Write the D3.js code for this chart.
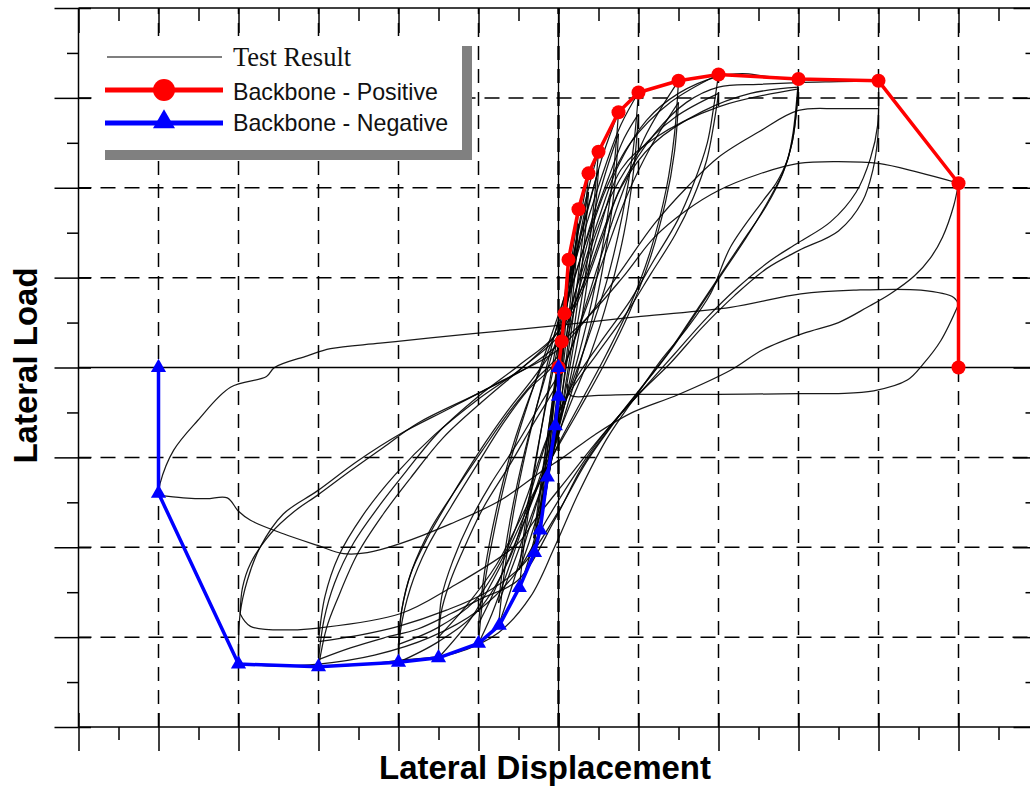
<!DOCTYPE html>
<html><head><meta charset="utf-8">
<script src="https://cdn.jsdelivr.net/npm/d3@7/dist/d3.min.js"></script>
<style>html,body{margin:0;padding:0;background:#fff;overflow:hidden}</style>
</head><body>
<svg id="chart" width="1030" height="786"></svg>
<script>
// ---------- data ----------
const xTicksMajor = [-6,-5,-4,-3,-2,-1,0,1,2,3,4,5,6];
const xTicksMinor = [-5.5,-4.5,-3.5,-2.5,-1.5,-0.5,0.5,1.5,2.5,3.5,4.5,5.5];
const yTicksMajor = [-4,-3,-2,-1,0,1,2,3,4];
const yTicksMinor = [-3.5,-2.5,-1.5,-0.5,0.5,1.5,2.5,3.5];

const backbonePosX = [0,0.04,0.075,0.125,0.25,0.375,0.5,0.75,1,1.5,2,3,4,5,5];
const backbonePosY = [0,0.29,0.60,1.20,1.76,2.16,2.40,2.84,3.06,3.19,3.26,3.21,3.19,2.05,0];
const backboneNegX = [0,0,-0.04,-0.14,-0.23,-0.30,-0.49,-0.74,-1,-1.5,-2,-3,-4,-5,-5];
const backboneNegY = [0,-0.32,-0.65,-1.22,-1.81,-2.06,-2.45,-2.87,-3.07,-3.23,-3.28,-3.33,-3.30,-1.40,0];

const legendLabels = ["Test Result","Backbone - Positive","Backbone - Negative"];
const xTitle = "Lateral Displacement";
const yTitle = "Lateral Load";

// test result, one branch per half cycle [displacement, load]
const testResult = [
 [[0,-0.30],[0.02,0.00],[0.04,0.29]],
 [[0.04,0.29],[0.02,0.00],[0.00,-0.30]],
 [[-0.03,-0.64],[0.00,-0.20],[0.04,0.20],[0.075,0.60]],
 [[0.075,0.60],[0.05,0.15],[0.01,-0.25],[-0.03,-0.64]],
 [[-0.14,-1.23],[-0.09,-0.70],[-0.03,-0.15],[0.03,0.35],[0.08,0.80],[0.125,1.20]],
 [[0.125,1.20],[0.09,0.70],[0.03,0.10],[-0.03,-0.40],[-0.09,-0.85],[-0.14,-1.23]],
 [[-0.14,-1.15],[-0.08,-0.60],[-0.01,-0.05],[0.05,0.45],[0.10,0.85],[0.125,1.10]],
 [[0.125,1.10],[0.10,0.65],[0.05,0.05],[-0.02,-0.45],[-0.08,-0.85],[-0.14,-1.15]],
 [[-0.24,-1.82],[-0.17,-1.20],[-0.08,-0.50],[0.02,0.20],[0.10,0.80],[0.18,1.30],[0.25,1.76]],
 [[0.25,1.76],[0.20,1.20],[0.12,0.50],[0.03,-0.20],[-0.06,-0.80],[-0.15,-1.35],[-0.24,-1.82]],
 [[-0.24,-1.65],[-0.16,-1.05],[-0.06,-0.35],[0.04,0.30],[0.13,0.85],[0.20,1.25],[0.25,1.60]],
 [[0.25,1.60],[0.21,1.10],[0.14,0.45],[0.05,-0.25],[-0.05,-0.80],[-0.15,-1.25],[-0.24,-1.65]],
 [[-0.31,-2.06],[-0.24,-1.50],[-0.14,-0.80],[-0.03,-0.05],[0.08,0.65],[0.20,1.30],[0.30,1.80],[0.375,2.16]],
 [[0.375,2.16],[0.32,1.60],[0.23,0.90],[0.12,0.15],[0.00,-0.55],[-0.10,-1.10],[-0.20,-1.60],[-0.31,-2.06]],
 [[-0.31,-1.90],[-0.23,-1.35],[-0.12,-0.65],[0.00,0.05],[0.11,0.70],[0.23,1.30],[0.32,1.70],[0.375,1.95]],
 [[0.375,1.95],[0.33,1.45],[0.25,0.80],[0.14,0.10],[0.02,-0.55],[-0.09,-1.05],[-0.20,-1.50],[-0.31,-1.90]],
 [[-0.49,-2.46],[-0.42,-1.90],[-0.30,-1.15],[-0.16,-0.40],[-0.02,0.30],[0.12,0.95],[0.27,1.60],[0.40,2.08],[0.50,2.40]],
 [[0.50,2.40],[0.44,1.80],[0.34,1.05],[0.20,0.30],[0.06,-0.40],[-0.08,-1.00],[-0.22,-1.60],[-0.36,-2.10],[-0.49,-2.46]],
 [[-0.49,-2.25],[-0.41,-1.70],[-0.28,-1.00],[-0.13,-0.30],[0.02,0.35],[0.16,0.95],[0.30,1.55],[0.42,1.95],[0.50,2.20]],
 [[0.50,2.20],[0.45,1.65],[0.36,0.95],[0.23,0.25],[0.08,-0.40],[-0.07,-0.95],[-0.22,-1.50],[-0.37,-1.95],[-0.49,-2.25]],
 [[-0.75,-2.87],[-0.68,-2.30],[-0.56,-1.60],[-0.40,-0.90],[-0.22,-0.25],[-0.04,0.40],[0.15,1.05],[0.35,1.70],[0.55,2.35],[0.75,2.84]],
 [[0.75,2.84],[0.69,2.20],[0.58,1.50],[0.42,0.75],[0.24,0.10],[0.05,-0.50],[-0.15,-1.15],[-0.37,-1.80],[-0.57,-2.40],[-0.75,-2.87]],
 [[-0.75,-2.62],[-0.67,-2.05],[-0.54,-1.40],[-0.37,-0.75],[-0.18,-0.15],[0.02,0.45],[0.22,1.05],[0.42,1.65],[0.60,2.20],[0.75,2.60]],
 [[0.75,2.60],[0.70,2.00],[0.60,1.35],[0.45,0.65],[0.27,0.05],[0.07,-0.55],[-0.14,-1.15],[-0.36,-1.70],[-0.57,-2.20],[-0.75,-2.62]],
 [[-1,-3.07],[-0.93,-2.45],[-0.80,-1.80],[-0.62,-1.10],[-0.40,-0.45],[-0.17,0.15],[0.06,0.75],[0.30,1.45],[0.55,2.15],[0.78,2.70],[1,3.06]],
 [[1,3.06],[0.93,2.40],[0.80,1.70],[0.60,0.95],[0.36,0.30],[0.12,-0.30],[-0.13,-0.95],[-0.40,-1.65],[-0.65,-2.30],[-0.85,-2.78],[-1,-3.07]],
 [[-1,-2.85],[-0.92,-2.25],[-0.78,-1.60],[-0.58,-0.90],[-0.35,-0.30],[-0.10,0.25],[0.14,0.85],[0.38,1.50],[0.62,2.10],[0.82,2.55],[1,2.82]],
 [[1,2.82],[0.94,2.20],[0.82,1.50],[0.63,0.80],[0.40,0.15],[0.15,-0.40],[-0.12,-1.00],[-0.40,-1.65],[-0.66,-2.20],[-0.86,-2.60],[-1,-2.85]],
 [[-1.5,-3.23],[-1.47,-2.74],[-1.35,-2.37],[-1.14,-1.93],[-0.94,-1.56],[-0.60,-1.07],[-0.31,-0.62],[0,-0.15],[0.25,0.45],[0.50,1.15],[0.78,1.90],[1.10,2.60],[1.5,3.19]],
 [[1.5,3.19],[1.45,2.60],[1.35,2.00],[1.15,1.30],[0.90,0.70],[0.60,0.15],[0.30,-0.35],[0,-0.85],[-0.35,-1.50],[-0.72,-2.20],[-1.10,-2.80],[-1.5,-3.23]],
 [[-1.5,-3.00],[-1.46,-2.55],[-1.32,-2.15],[-1.10,-1.70],[-0.85,-1.30],[-0.52,-0.85],[-0.22,-0.40],[0.08,0.05],[0.32,0.60],[0.58,1.25],[0.85,1.90],[1.15,2.45],[1.5,2.95]],
 [[1.5,2.95],[1.45,2.40],[1.34,1.85],[1.14,1.20],[0.88,0.60],[0.58,0.05],[0.27,-0.45],[-0.05,-0.95],[-0.40,-1.55],[-0.78,-2.20],[-1.15,-2.65],[-1.5,-3.00]],
 [[-2,-3.28],[-1.975,-2.93],[-1.85,-2.45],[-1.64,-2.00],[-1.35,-1.56],[-1.01,-1.07],[-0.69,-0.62],[-0.39,-0.26],[0,0.10],[0.20,0.80],[0.40,1.50],[0.60,2.00],[0.90,2.50],[1.40,2.95],[2,3.26]],
 [[2,3.26],[1.94,2.90],[1.86,2.50],[1.69,2.05],[1.49,1.64],[1.19,1.19],[0.90,0.75],[0.50,0.25],[0.20,-0.15],[-0.10,-0.70],[-0.35,-1.40],[-0.60,-2.10],[-1.00,-2.70],[-1.50,-3.05],[-2,-3.28]],
 [[-2,-3.08],[-1.96,-2.70],[-1.83,-2.25],[-1.60,-1.80],[-1.30,-1.38],[-0.95,-0.92],[-0.62,-0.50],[-0.30,-0.15],[0.05,0.20],[0.25,0.85],[0.45,1.45],[0.68,1.95],[1.00,2.40],[1.45,2.78],[2,3.05]],
 [[2,3.05],[1.94,2.70],[1.85,2.30],[1.68,1.88],[1.46,1.48],[1.16,1.05],[0.86,0.62],[0.48,0.15],[0.16,-0.25],[-0.14,-0.78],[-0.40,-1.45],[-0.66,-2.05],[-1.05,-2.60],[-1.52,-2.90],[-2,-3.08]],
 [[-2,-3.08],[-1.96,-2.70],[-1.85,-2.30],[-1.64,-1.90],[-1.35,-1.45],[-1.00,-0.95],[-0.65,-0.50],[-0.30,-0.10],[0,0.30],[0.25,0.95],[0.50,1.65],[0.75,2.25],[1.10,2.75],[1.50,3.05],[2,3.24],[2.3,3.27],[2.6,3.24],[3,3.21]],
 [[3,3.21],[2.93,2.60],[2.86,2.31],[2.72,2.05],[2.56,1.86],[2.15,1.34],[1.90,0.82],[1.61,0.44],[1.28,0.08],[0.99,-0.29],[0.60,-0.80],[0.25,-1.40],[-0.05,-2.00],[-0.35,-2.55],[-0.75,-2.95],[-1.30,-3.18],[-2,-3.26],[-2.5,-3.31],[-3,-3.33]],
 [[-3,-3.33],[-2.90,-2.90],[-2.76,-2.57],[-2.51,-2.07],[-2.19,-1.63],[-1.85,-1.23],[-1.44,-0.78],[-0.94,-0.37],[-0.45,0.00],[0,0.35],[0.30,0.85],[0.55,1.45],[0.78,2.00],[1.20,2.50],[1.80,2.85],[2.40,3.05],[3,3.12]],
 [[3,3.12],[2.92,2.50],[2.80,2.15],[2.60,1.80],[2.30,1.40],[2.00,1.00],[1.70,0.60],[1.40,0.20],[1.10,-0.15],[0.70,-0.60],[0.30,-1.10],[-0.05,-1.70],[-0.51,-2.37],[-0.94,-2.56],[-1.35,-2.74],[-1.76,-2.91],[-2.19,-3.01],[-2.60,-3.12],[-3,-3.25]],
 [[-3,-3.25],[-2.93,-2.80],[-2.80,-2.40],[-2.56,-1.95],[-2.25,-1.55],[-1.90,-1.15],[-1.50,-0.72],[-1.00,-0.32],[-0.50,0.02],[-0.05,0.35],[0.25,0.80],[0.50,1.50],[0.78,2.20],[1.20,2.55],[2.00,2.90],[3,3.10]],
 [[3,3.10],[2.93,2.55],[2.82,2.20],[2.62,1.85],[2.35,1.45],[2.05,1.05],[1.75,0.65],[1.45,0.25],[1.15,-0.10],[0.75,-0.55],[0.35,-1.05],[0,-1.60],[-0.45,-2.20],[-0.90,-2.50],[-1.40,-2.70],[-2.00,-2.88],[-2.50,-2.98],[-3,-3.05]],
 [[-3,-3.05],[-2.92,-2.55],[-2.75,-2.10],[-2.45,-1.65],[-2.05,-1.20],[-1.55,-0.75],[-1.00,-0.35],[-0.45,0.00],[0,0.40],[0.30,0.90],[0.55,1.50],[0.80,2.05],[1.20,2.60],[1.60,2.95],[2.0,3.12],[2.5,3.15],[3.0,3.17],[3.5,3.18],[4,3.19]],
 [[4,3.19],[3.99,2.70],[3.90,2.33],[3.72,1.95],[3.40,1.62],[3.00,1.39],[2.65,1.19],[2.24,0.89],[1.85,0.55],[1.45,0.15],[1.05,-0.25],[0.60,-0.70],[0.20,-1.20],[-0.15,-1.70],[-0.50,-2.25],[-1.00,-2.70],[-1.60,-3.00],[-2.30,-3.20],[-3,-3.30],[-3.5,-3.32],[-4,-3.30]],
 [[-4,-3.30],[-3.98,-2.74],[-3.89,-2.37],[-3.73,-2.00],[-3.44,-1.63],[-3.01,-1.37],[-2.51,-1.04],[-1.98,-0.74],[-1.35,-0.45],[-0.69,-0.14],[0,0.20],[0.40,0.60],[0.80,1.10],[1.20,1.60],[1.60,2.00],[2.00,2.34],[2.50,2.62],[3.00,2.86],[3.50,2.88],[4,2.88]],
 [[4,2.88],[3.99,2.55],[3.93,2.20],[3.80,1.85],[3.50,1.52],[3.00,1.30],[2.60,1.10],[2.20,0.80],[1.80,0.45],[1.40,0.05],[1.00,-0.30],[0.55,-0.75],[0.10,-1.25],[-0.30,-1.70],[-0.51,-1.96],[-1.35,-2.45],[-1.98,-2.74],[-3.01,-2.90],[-3.35,-2.92],[-3.85,-2.88],[-3.98,-2.74]],
 [[-3.98,-2.74],[-3.95,-2.45],[-3.85,-2.18],[-3.60,-1.85],[-3.30,-1.60],[-3.01,-1.42],[-2.60,-1.15],[-2.19,-0.89],[-1.76,-0.62],[-0.94,-0.26],[-0.30,0.05],[0.30,0.50],[0.80,1.00],[1.20,1.45],[1.60,1.75],[2.00,1.97],[2.50,2.15],[3.00,2.27],[3.50,2.29],[4.00,2.27],[4.50,2.17],[5,2.05]],
 [[5,2.05],[4.94,1.80],[4.80,1.45],[4.65,1.22],[4.45,1.02],[4.15,0.82],[3.86,0.67],[3.50,0.50],[3.06,0.38],[2.56,0.20],[2.15,-0.03],[1.50,-0.30],[0.90,-0.51],[0.45,-0.75],[0.06,-1.00],[-0.20,-1.15],[-0.73,-1.48],[-1.35,-1.74],[-1.98,-1.96],[-2.39,-2.06],[-2.69,-2.07],[-3.01,-1.98],[-3.44,-1.85],[-3.85,-1.70],[-4.00,-1.60],[-4.14,-1.45],[-4.40,-1.46],[-4.69,-1.45],[-5,-1.42]],
 [[-5,-1.42],[-4.98,-1.29],[-4.81,-0.92],[-4.51,-0.59],[-4.10,-0.22],[-3.65,-0.10],[-3.55,0.00],[-3.14,0.13],[-2.85,0.21],[-2.23,0.27],[-1.60,0.33],[-0.80,0.40],[0,0.47],[1.03,0.57],[2.15,0.67],[3.03,0.82],[3.69,0.86],[4.53,0.86],[4.94,0.78],[5,0.70]],
 [[5,0.70],[4.78,0.30],[4.56,0.04],[4.36,-0.14],[3.94,-0.26],[3.50,-0.29],[3.00,-0.29],[2.00,-0.30],[1.00,-0.30],[0.50,-0.31],[0.15,-0.31],[0.11,-0.18]]
];

// ---------- layout ----------
const svg = d3.select("#chart");
const x = d3.scaleLinear().domain([-6,6]).range([78.5,1038.5]);
const y = d3.scaleLinear().domain([-4,4]).range([727,8]);
const X0 = x(-6), X1 = x(6), Y0 = y(-4), Y1 = y(4);

svg.append("defs").append("clipPath").attr("id","plot")
  .append("rect").attr("x",X0).attr("y",Y1).attr("width",X1-X0).attr("height",Y0-Y1);

// grid
const grid = svg.append("g").attr("stroke","#000").attr("fill","none");
grid.selectAll(".gx").data(xTicksMajor.filter(d=>d>-6&&d<6&&d!==0)).join("line")
  .attr("x1",d=>x(d)).attr("x2",d=>x(d)).attr("y1",Y1).attr("y2",Y0)
  .attr("stroke-width",1.5).attr("stroke-dasharray","14,9").attr("stroke-dashoffset",8);
grid.selectAll(".gy").data(yTicksMajor.filter(d=>d>-4&&d<4&&d!==0)).join("line")
  .attr("y1",d=>y(d)).attr("y2",d=>y(d)).attr("x1",X0).attr("x2",X1)
  .attr("stroke-width",1.5).attr("stroke-dasharray","15,9").attr("stroke-dashoffset",2);
grid.append("line").attr("x1",X0).attr("x2",X1).attr("y1",y(0)).attr("y2",y(0)).attr("stroke-width",1.3);
grid.append("line").attr("x1",x(0)).attr("x2",x(0)).attr("y1",Y1).attr("y2",Y0).attr("stroke-width",1.3);
grid.append("line").attr("x1",x(0)).attr("x2",x(0)).attr("y1",Y1).attr("y2",Y0)
  .attr("stroke-width",2.4).attr("stroke-dasharray","14,9").attr("stroke-dashoffset",8);

// test result curves
const curve = d3.line().x(d=>x(d[0])).y(d=>y(d[1])).curve(d3.curveCatmullRom.alpha(0.5));
svg.append("g").attr("clip-path","url(#plot)")
  .selectAll("path").data(testResult).join("path")
  .attr("d",curve).attr("fill","none").attr("stroke","#000")
  .attr("stroke-width",1.25).attr("stroke-opacity",0.9).attr("stroke-linejoin","round");

// backbones
const pos = backbonePosX.map((v,i)=>[v,backbonePosY[i]]);
const neg = backboneNegX.map((v,i)=>[v,backboneNegY[i]]);
const lin = d3.line().x(d=>x(d[0])).y(d=>y(d[1]));
svg.append("path").attr("d",lin(pos)).attr("fill","none").attr("stroke","#ff0000").attr("stroke-width",3.5).attr("stroke-linejoin","round");
svg.append("g").selectAll("circle").data(pos).join("circle")
  .attr("cx",d=>x(d[0])).attr("cy",d=>y(d[1])).attr("r",7).attr("fill","#ff0000");
svg.append("path").attr("d",lin(neg)).attr("fill","none").attr("stroke","#0000ff").attr("stroke-width",3.5).attr("stroke-linejoin","round");
const tri = d3.symbol().type(d3.symbolTriangle).size(100);
svg.append("g").selectAll("path").data(neg).join("path")
  .attr("transform",d=>`translate(${x(d[0])},${y(d[1])})`).attr("d",tri).attr("fill","#0000ff");

// axes
function ax(gen, tr, vals, size){
  svg.append("g").attr("transform",tr)
    .call(gen.tickValues(vals).tickSizeInner(size).tickSizeOuter(0).tickFormat(""))
    .call(g=>{g.select(".domain").remove(); g.selectAll("line").attr("stroke","#000").attr("stroke-width",1.5);});
}
ax(d3.axisBottom(x), `translate(0,${Y0})`, xTicksMajor, 24);
ax(d3.axisTop(x),    `translate(0,${Y0})`, xTicksMajor, 14);
ax(d3.axisBottom(x), `translate(0,${Y0})`, xTicksMinor, 13);
ax(d3.axisBottom(x), `translate(0,${Y1})`, xTicksMajor, 25);
ax(d3.axisBottom(x), `translate(0,${Y1})`, xTicksMinor, 13);
ax(d3.axisLeft(y),   `translate(${X0},0)`, yTicksMajor, 24);
ax(d3.axisRight(y),  `translate(${X0},0)`, yTicksMajor, 12.5);
ax(d3.axisLeft(y),   `translate(${X0},0)`, yTicksMinor, 11.5);
ax(d3.axisLeft(y),   `translate(${X1},0)`, yTicksMajor, 25);
ax(d3.axisLeft(y),   `translate(${X1},0)`, yTicksMinor, 13);
const frame = svg.append("g").attr("stroke","#000").attr("stroke-width",1.5);
frame.append("line").attr("x1",X0).attr("x2",X1).attr("y1",Y0).attr("y2",Y0);
frame.append("line").attr("x1",X0).attr("x2",X1).attr("y1",Y1).attr("y2",Y1);
frame.append("line").attr("x1",X0).attr("x2",X0).attr("y1",Y1).attr("y2",Y0);
frame.append("line").attr("x1",X1).attr("x2",X1).attr("y1",Y1).attr("y2",Y0);

// legend
const lg = svg.append("g");
lg.append("rect").attr("x",105).attr("y",46).attr("width",367).attr("height",114).attr("fill","#808080");
lg.append("rect").attr("x",95).attr("y",36).attr("width",367).attr("height",114).attr("fill","#fff");
lg.append("line").attr("x1",107).attr("x2",222).attr("y1",57).attr("y2",57).attr("stroke","#000").attr("stroke-width",1.2);
lg.append("line").attr("x1",105).attr("x2",223).attr("y1",90).attr("y2",90).attr("stroke","#ff0000").attr("stroke-width",5);
lg.append("circle").attr("cx",164).attr("cy",90).attr("r",11).attr("fill","#ff0000");
lg.append("line").attr("x1",105).attr("x2",223).attr("y1",123).attr("y2",123).attr("stroke","#0000ff").attr("stroke-width",5);
lg.append("path").attr("transform","translate(164,122)").attr("d",d3.symbol().type(d3.symbolTriangle).size(210)()).attr("fill","#0000ff");
lg.append("text").attr("x",233).attr("y",66).attr("font-family","'Liberation Serif','Times New Roman',serif")
  .attr("font-size",26.5).attr("fill","#111").text(legendLabels[0]);
lg.append("text").attr("x",233).attr("y",100).attr("font-family","'Liberation Sans',Arial,sans-serif")
  .attr("font-size",23.2).attr("fill","#111").text(legendLabels[1]);
lg.append("text").attr("x",233).attr("y",131).attr("font-family","'Liberation Sans',Arial,sans-serif")
  .attr("font-size",23.2).attr("fill","#111").text(legendLabels[2]);

// axis titles
svg.append("text").attr("x",545).attr("y",779).attr("text-anchor","middle")
  .attr("font-family","'Liberation Sans',Arial,sans-serif").attr("font-weight","bold").attr("font-size",33).text(xTitle);
svg.append("text").attr("transform","translate(37,365.5) rotate(-90)").attr("text-anchor","middle")
  .attr("font-family","'Liberation Sans',Arial,sans-serif").attr("font-weight","bold").attr("font-size",33).text(yTitle);
</script>
</body></html>
